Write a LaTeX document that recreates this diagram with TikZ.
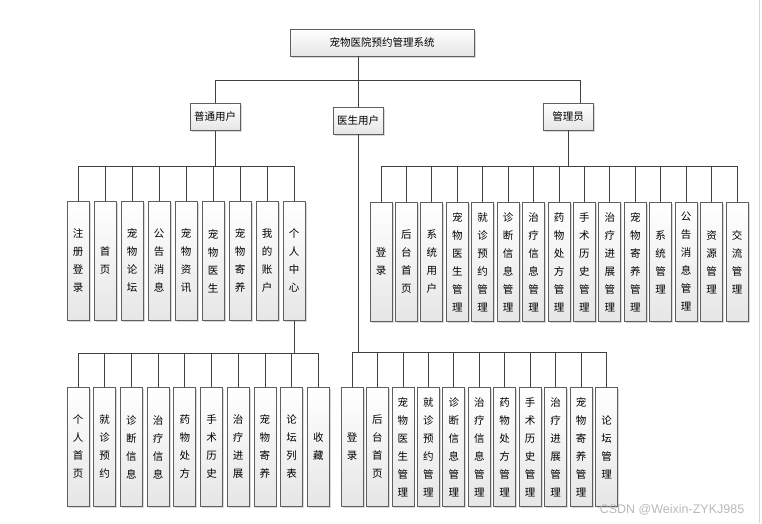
\documentclass[tikz,border=0pt]{standalone}
\usepackage{fontspec}
\newfontfamily\cjk{Noto Sans CJK SC}
\newfontfamily\wmfont{Liberation Sans}
\usepackage{tikz}
\usetikzlibrary{shadows}
\definecolor{trline}{RGB}{64,64,64}
\definecolor{trborder}{RGB}{95,95,95}
\definecolor{trshade}{RGB}{230,230,230}
\definecolor{trmark}{RGB}{185,185,185}

\begin{document}
\begin{tikzpicture}[x=1pt, y=-1pt,
    box/.style={rectangle, draw=trborder, line width=0.8pt, top color=white,
        bottom color=trshade, inner sep=0pt, text centered,
        drop shadow={shadow xshift=1.5pt, shadow yshift=-1.5pt, fill=black!30},
        font=\cjk\fontsize{10.5}{18}\selectfont},
    topbox/.style={box, minimum width=184pt, minimum height=27pt},
    rolebox/.style={box, minimum width=50pt, minimum height=27pt},
    leafbox/.style={box, anchor=north, minimum width=22pt, minimum height=119pt,
        text width=22pt, align=center},
    link/.style={draw=trline, line width=0.8pt}
]
\useasboundingbox (0,0) rectangle (762,523);

\node[topbox]  (sys)    at (382,42.5)  {宠物医院预约管理系统};
\node[rolebox] (user)   at (215,117)   {普通用户};
\node[rolebox] (doctor) at (358,120.5) {医生用户};
\node[rolebox] (admin)  at (568,116.5) {管理员};

\coordinate (bus0) at (358,80);
\draw[link] (sys.south -| bus0) -- (bus0);
\draw[link] (user.north) |- (bus0);
\draw[link] (doctor.north) -- (bus0);
\draw[link] ([xshift=12pt]admin.north) |- (bus0);

\coordinate (ubus) at (215,166);
\draw[link] (user.south) -- (ubus);
\foreach \t [count=\i] in {{注\\册\\登\\录}, {首\\页}, {宠\\物\\论\\坛},
    {公\\告\\消\\息}, {宠\\物\\资\\讯}, {宠\\物\\医\\生}, {宠\\物\\寄\\养},
    {我\\的\\账\\户}, {个\\人\\中\\心}} {
  \node[leafbox] (u\i) at (51+27*\i,201) {\t};
  \draw[link] (u\i.north) |- (ubus);
}

\coordinate (pbus) at (294,353);
\draw[link] (u9.south) -- (pbus);
\foreach \t [count=\i] in {{个\\人\\首\\页}, {就\\诊\\预\\约}, {诊\\断\\信\\息},
    {治\\疗\\信\\息}, {药\\物\\处\\方}, {手\\术\\历\\史}, {治\\疗\\进\\展},
    {宠\\物\\寄\\养}, {论\\坛\\列\\表}, {收\\藏}} {
  \node[leafbox] (p\i) at (51.3+26.7*\i,387) {\t};
  \draw[link] (p\i.north) |- (pbus);
}

\coordinate (dbus) at (358,352);
\draw[link] (doctor.south) -- (dbus);
\foreach \t [count=\i] in {{登\\录}, {后\\台\\首\\页}, {宠\\物\\医\\生\\管\\理},
    {就\\诊\\预\\约\\管\\理}, {诊\\断\\信\\息\\管\\理}, {治\\疗\\信\\息\\管\\理},
    {药\\物\\处\\方\\管\\理}, {手\\术\\历\\史\\管\\理}, {治\\疗\\进\\展\\管\\理},
    {宠\\物\\寄\\养\\管\\理}, {论\\坛\\管\\理}} {
  \node[leafbox] (d\i) at (326.55+25.45*\i,387) {\t};
  \draw[link] (d\i.north) |- (dbus);
}

\coordinate (abus) at (568,166);
\draw[link] (admin.south) -- (abus);
\foreach \t [count=\i] in {{登\\录}, {后\\台\\首\\页}, {系\\统\\用\\户},
    {宠\\物\\医\\生\\管\\理}, {就\\诊\\预\\约\\管\\理}, {诊\\断\\信\\息\\管\\理},
    {治\\疗\\信\\息\\管\\理}, {药\\物\\处\\方\\管\\理}, {手\\术\\历\\史\\管\\理},
    {治\\疗\\进\\展\\管\\理}, {宠\\物\\寄\\养\\管\\理}, {系\\统\\管\\理},
    {公\\告\\消\\息\\管\\理}, {资\\源\\管\\理}, {交\\流\\管\\理}} {
  \node[leafbox] (a\i) at (355.57+25.43*\i,202) {\t};
  \draw[link] (a\i.north) |- (abus);
}

\node[font=\wmfont\fontsize{12.5}{14}\selectfont, text=trmark] (mark) at (672,510)
    {CSDN @Weixin-ZYKJ985};
\draw[trmark!60, line width=1pt] (759,0) -- (759,523);
\end{tikzpicture}
\end{document}
